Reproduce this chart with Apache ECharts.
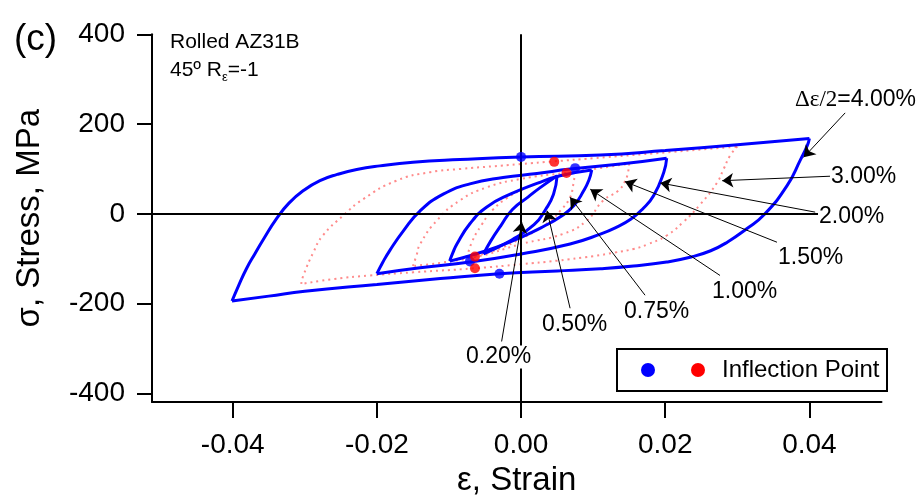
<!DOCTYPE html>
<html><head><meta charset="utf-8">
<script src="https://cdn.jsdelivr.net/npm/echarts@6/dist/echarts.min.js"></script>
<style>html,body{margin:0;padding:0;background:#fff}#c{width:923px;height:502px}</style>
</head><body><div id="c"></div>
<script>
// ---- tick labels ----
const xTicks = [-0.04, -0.02, 0, 0.02, 0.04];
const yTicks = [-400, -200, 0, 200, 400];

// ---- blue loops (measured) : [strain, stress MPa] ----
const loop4Up = [[-0.0401,-194],[-0.0392,-160],[-0.0381,-122],[-0.0369,-88],[-0.0358,-58],[-0.0339,-10],[-0.0322,24],[-0.0302,52],[-0.0279,74],[-0.0255,88],[-0.0228,99],[-0.0196,107],[-0.015,115],[-0.0085,121],[0,127],[0.011,131],[0.02,141],[0.03,154],[0.04,168]];
const loop4Dn = [[0.04,168],[0.0397,152],[0.0388,122],[0.0369,63],[0.0337,-2],[0.0313,-33],[0.0286,-63],[0.0263,-82],[0.0236,-96],[0.0202,-107],[0.0156,-116],[0.011,-122],[0.005,-127],[-0.003,-133],[-0.0112,-144],[-0.02,-157],[-0.03,-172],[-0.035,-183],[-0.0401,-194]];
const loop2Up = [[-0.02,-133],[-0.0192,-108],[-0.0182,-81],[-0.0163,-37],[-0.014,7],[-0.0108,44],[-0.0071,67],[-0.0025,81],[0.0022,90],[0.0068,100],[0.0138,111],[0.0202,124]];
const loop2Dn = [[0.0202,124],[0.0198,93],[0.0184,41],[0.0168,10],[0.0152,-12],[0.0132,-30],[0.011,-45],[0.0068,-67],[0,-89],[-0.0071,-107],[-0.014,-120],[-0.02,-133]];
const loop1Up = [[-0.0099,-105],[-0.0095,-88],[-0.0089,-67],[-0.0071,-22],[-0.0048,15],[-0.0015,44],[0.0022,68],[0.0054,85],[0.0098,98]];
const loop1Dn = [[0.0098,98],[0.0094,75],[0.0087,52],[0.0073,18],[0.0054,-7],[0.0031,-28],[0,-52],[-0.0034,-74],[-0.0071,-93],[-0.0099,-105]];
const loop05Up = [[-0.0052,-89],[-0.0042,-60],[-0.0028,-26],[-0.0012,10],[0.001,38],[0.0026,58],[0.005,85]];
const loop05Dn = [[0.005,85],[0.0045,44],[0.0034,10],[0.0018,-24],[-0.0013,-58],[-0.0052,-89]];

// ---- dotted loops (measured) ----
const loop3Up = [[-0.0305,-156],[-0.0302,-137],[-0.0288,-85],[-0.0275,-48],[-0.0247,-4],[-0.0219,33],[-0.0173,74],[-0.0126,93],[-0.0085,100],[0,111],[0.0045,117],[0.01,124],[0.02,137],[0.03,150]];
const loop3Dn = [[0.03,150],[0.029,130],[0.0281,100],[0.0272,70],[0.0249,22],[0.0225,-18],[0.0202,-48],[0.0175,-68],[0.0156,-78],[0.013,-86],[0.01,-94],[0.005,-104],[0,-112],[-0.0064,-121],[-0.015,-130],[-0.021,-137],[-0.026,-145],[-0.0305,-156]];
const loop15Up = [[-0.015,-116],[-0.0145,-92],[-0.014,-67],[-0.0117,-15],[-0.0085,30],[-0.0048,59],[0,78],[0.0063,92],[0.01,100],[0.015,112]];
const loop15Dn = [[0.015,112],[0.0148,90],[0.0144,72],[0.0135,52],[0.0114,30],[0.0091,-15],[0.0059,-44],[0,-67],[-0.0064,-96],[-0.015,-116]];
const loop075Up = [[-0.0075,-97],[-0.0068,-62],[-0.0055,-25],[-0.004,8],[-0.002,35],[0,53],[0.0025,70],[0.005,83],[0.0075,93]];
const loop075Dn = [[0.0075,93],[0.0072,62],[0.0068,37],[0.0055,8],[0.004,-16],[0.002,-38],[0,-55],[-0.0025,-74],[-0.005,-88],[-0.0075,-97]];

// ---- inflection points ----
const inflBlue = [[0,127],[0.0075,102],[-0.003,-133],[-0.0071,-106]];
const inflRed = [[0.0046,116],[0.0063,91],[-0.0064,-95],[-0.0064,-121]];

// ---- annotation labels and arrow ends (data coords) ----
const annLabels = ['Δε/2=4.00%','3.00%','2.00%','1.50%','1.00%','0.75%','0.50%','0.20%'];
const annFrom = [[0.04496,225],[0.0429,84],[0.0408,4],[0.0355,-63],[0.0276,-137],[0.0172,-181],[0.0068,-210],[-0.0027,-284]];
const annTo = [[0.0392,126],[0.0279,74],[0.0193,69],[0.0144,72],[0.0096,55],[0.0068,37],[0.0036,7],[0.0001,-18]];

const SANS = '"Liberation Sans", Arial, sans-serif';
const BLUE = '#0000ff';
const PINK = 'rgba(255,90,90,0.7)';

function loopSeries(name, data, dotted) {
  return {
    type: 'line', name: name, data: data, showSymbol: false, smooth: 0.5,
    silent: true, z: dotted ? 2 : 4,
    lineStyle: dotted ? {color: PINK, width: 2, type: [2, 4]} : {color: BLUE, width: 3}
  };
}

const chart = echarts.init(document.getElementById('c'), null, {renderer: 'canvas'});
const arrowData = annFrom.map((f, i) => [{coord: f}, {coord: annTo[i]}]);

const series = [
  Object.assign(loopSeries('3%u', loop3Up, true), {
    markLine: {silent: true, symbol: 'none', label: {show: false},
      lineStyle: {color: '#000', width: 2, type: 'solid'},
      data: [{yAxis: 0}, {xAxis: 0}], animation: false}
  }),
  loopSeries('3%d', loop3Dn, true),
  loopSeries('1.5%u', loop15Up, true), loopSeries('1.5%d', loop15Dn, true),
  loopSeries('0.75%u', loop075Up, true), loopSeries('0.75%d', loop075Dn, true),
  loopSeries('4%u', loop4Up), loopSeries('4%d', loop4Dn),
  loopSeries('2%u', loop2Up), loopSeries('2%d', loop2Dn),
  loopSeries('1%u', loop1Up), loopSeries('1%d', loop1Dn),
  loopSeries('0.5%u', loop05Up), loopSeries('0.5%d', loop05Dn),
  {type: 'scatter', name: 'Inflection Point (blue)', data: inflBlue, symbolSize: 10, z: 6,
   itemStyle: {color: BLUE}, silent: true,
   markLine: {silent: true, symbol: ['none', 'arrow'], symbolSize: 11, label: {show: false},
     lineStyle: {color: '#000', width: 1, type: 'solid'}, data: arrowData, animation: false}},
  {type: 'scatter', name: 'Inflection Point (red)', data: inflRed, symbolSize: 10, z: 6,
   itemStyle: {color: '#ff0000'}, silent: true}
];

// label pixel placement (layout only)
const labelPos = [[795,100],[830,177],[818,217],[777,258],[711,292],[623,312],[541,325],[465,357]];
const annGraphics = annLabels.map((t, i) => {
  if (i === 0) {
    return {type: 'text', x: labelPos[i][0], y: labelPos[i][1], z: 100,
      style: {text: '{s|Δε/2}{n|=4.00%}', verticalAlign: 'middle', fill: '#000',
        rich: {s: {fontFamily: '"Liberation Serif", "Times New Roman", serif', fontSize: 23},
               n: {fontFamily: SANS, fontSize: 23}}}};
  }
  return {type: 'text', x: labelPos[i][0], y: labelPos[i][1], z: 100,
    style: {text: t, font: '23px ' + SANS, fill: '#000', verticalAlign: 'middle',
      backgroundColor: '#fff', padding: [0, 1, 0, 1]}};
});

chart.setOption({
  animation: false,
  backgroundColor: '#fff',
  grid: {left: 152, top: 34.3, width: 729.5, height: 370.5, containLabel: false},
  xAxis: {
    type: 'value', min: -0.0512, max: 0.05,
    name: 'ε, Strain', nameLocation: 'middle', nameGap: 61,
    nameTextStyle: {fontFamily: SANS, fontSize: 33, color: '#000'},
    axisLine: {show: true, onZero: false, lineStyle: {color: '#000', width: 2}},
    axisTick: {show: true, inside: false, length: 16, customValues: xTicks, lineStyle: {color: '#000', width: 2}},
    axisLabel: {customValues: xTicks, margin: 29, fontFamily: SANS, fontSize: 28, color: '#000',
      formatter: v => v.toFixed(2)},
    splitLine: {show: false}
  },
  yAxis: {
    type: 'value', min: -419, max: 400,
    name: 'σ, Stress, MPa', nameLocation: 'middle', nameGap: 106,
    nameTextStyle: {fontFamily: SANS, fontSize: 33, color: '#000'},
    axisLine: {show: true, onZero: false, lineStyle: {color: '#000', width: 2}},
    axisTick: {show: true, inside: false, length: 15, customValues: yTicks, lineStyle: {color: '#000', width: 2}},
    axisLabel: {customValues: yTicks, margin: 27, fontFamily: SANS, fontSize: 28, color: '#000',
      formatter: v => String(v)},
    splitLine: {show: false}
  },
  series: series,
  graphic: [
    {type: 'text', x: 14, y: 40, z: 100, style: {text: '(c)', font: '37px ' + SANS, fill: '#000', verticalAlign: 'middle'}},
    {type: 'text', x: 170, y: 42, z: 100, style: {text: 'Rolled AZ31B', font: '21px ' + SANS, fill: '#000', verticalAlign: 'middle'}},
    {type: 'text', x: 170, y: 70, z: 100, style: {text: '{a|45º R}{b|ε}{a|=-1}', verticalAlign: 'middle', fill: '#000',
      rich: {a: {fontFamily: SANS, fontSize: 21, lineHeight: 28},
             b: {fontFamily: SANS, fontSize: 13, lineHeight: 13, verticalAlign: 'bottom'}}}},
    ...annGraphics,
    {type: 'group', z: 100, children: [
      {type: 'rect', shape: {x: 617, y: 349, width: 270, height: 42}, style: {fill: '#fff', stroke: '#000', lineWidth: 2}, z: 100},
      {type: 'circle', shape: {cx: 648, cy: 370, r: 7}, style: {fill: BLUE}, z: 101},
      {type: 'circle', shape: {cx: 698, cy: 370, r: 7}, style: {fill: '#ff0000'}, z: 101},
      {type: 'text', x: 722, y: 370, z: 101, style: {text: 'Inflection Point', font: '24px ' + SANS, fill: '#000', verticalAlign: 'middle'}}
    ]}
  ]
});
</script></body></html>
